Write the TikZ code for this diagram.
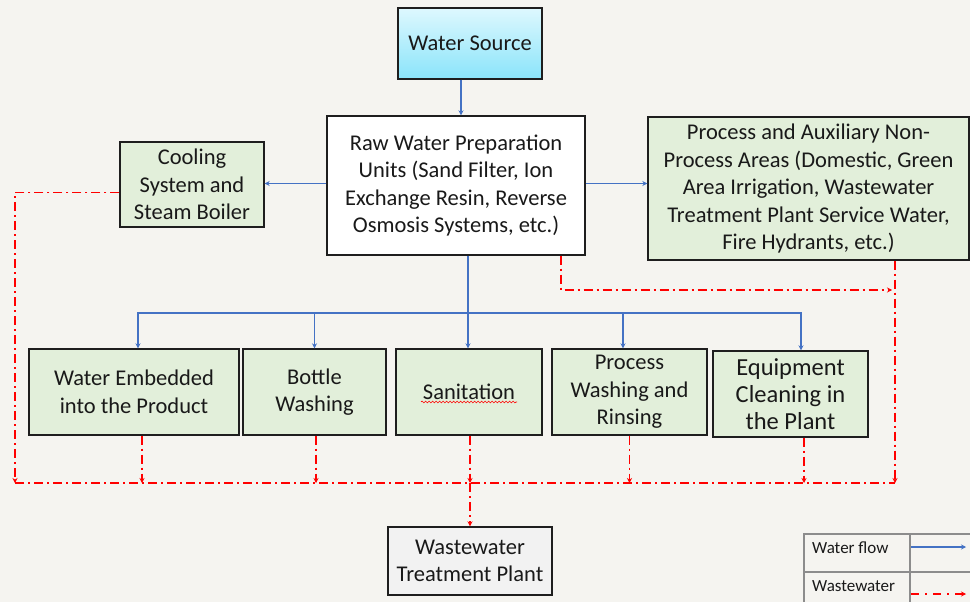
\documentclass[tikz,border=0pt]{standalone}
\usepackage{fontspec}
\setmainfont{Carlito}
\usetikzlibrary{arrows.meta,calc,decorations.pathmorphing}
\definecolor{bgc}{RGB}{245,244,240}
\definecolor{boxgreen}{RGB}{226,239,218}
\definecolor{flowblue}{RGB}{68,114,196}
\definecolor{wred}{RGB}{255,0,0}
\definecolor{edgec}{RGB}{30,30,30}
\definecolor{txt}{RGB}{25,25,25}
\definecolor{wtpfill}{RGB}{242,242,242}
\definecolor{cyantop}{RGB}{222,248,254}
\definecolor{cyanbot}{RGB}{138,228,250}
\definecolor{legc}{RGB}{140,140,140}
\begin{document}
\begin{tikzpicture}[x=1pt,y=-1pt,
  box/.style={draw=edgec,line width=1.4pt,inner sep=0pt,align=center,text=txt,
    font=\fontsize{22.5}{27.5}\selectfont},
  gbox/.style={box,fill=boxgreen},
  flow/.style={draw=flowblue,line width=1.4pt,-{Stealth[length=5pt,width=5pt]}},
  flowline/.style={draw=flowblue,line width=1.4pt},
  waste/.style={draw=wred,line width=1.8pt,dash pattern=on 9pt off 4pt on 2pt off 4pt,-{Stealth[length=5pt,width=5pt]}},
  wasteline/.style={draw=wred,line width=1.8pt,dash pattern=on 9pt off 4pt on 2pt off 4pt},
  legtxt/.style={inner sep=0pt,anchor=west,text=txt,font=\fontsize{17}{20}\selectfont}
]
\useasboundingbox (0,0) rectangle (970,602);
\fill[bgc] (0,0) rectangle (970,602);

% nodes
\node[box,top color=cyantop,bottom color=cyanbot,minimum width=144pt,minimum height=71pt] (ws) at (470,43.5) {Water Source};
\node[box,fill=white,minimum width=258pt,minimum height=139pt] (raw) at (456,185.5)
  {Raw Water Preparation\\Units (Sand Filter, Ion\\Exchange Resin, Reverse\\Osmosis Systems, etc.)};
\node[gbox,minimum width=144pt,minimum height=85pt] (cool) at (192,184.5) {Cooling\\System and\\Steam Boiler};
\node[gbox,minimum width=321pt,minimum height=143pt] (proc) at (808.5,188.5)
  {Process and Auxiliary Non-\\Process Areas (Domestic, Green\\Area Irrigation, Wastewater\\Treatment Plant Service Water,\\Fire Hydrants, etc.)};
\node[gbox,minimum width=210pt,minimum height=86pt] (we) at (134,392) {Water Embedded\\into the Product};
\node[gbox,minimum width=143pt,minimum height=86pt] (bw) at (314.5,392) {Bottle\\Washing};
\node[gbox,minimum width=146pt,minimum height=86pt] (san) at (469,392) {Sanitation};
\node[gbox,minimum width=155pt,minimum height=86pt] (pw) at (629.5,392) {Process\\Washing and\\Rinsing};
\node[gbox,minimum width=155pt,minimum height=86pt,font=\fontsize{24.5}{27}\selectfont] (eq) at (790.5,394) {Equipment\\Cleaning in\\the Plant};
\node[box,fill=wtpfill,minimum width=164pt,minimum height=68pt] (wtp) at (470,561) {Wastewater\\Treatment Plant};

% spell-check squiggle under Sanitation
\draw[wred,line width=0.6pt,decorate,decoration={snake,amplitude=0.9pt,segment length=3.5pt}]
  ([xshift=-48pt,yshift=-10pt]san.center) -- ([xshift=48pt,yshift=-10pt]san.center);

% water flow
\draw[flow] ([xshift=-9pt]ws.south) -- ([xshift=-9pt]ws.south |- raw.north);
\draw[flow] ([yshift=2pt]raw.west) -- ([yshift=2pt]raw.west -| cool.east);
\draw[flow] ([yshift=2pt]raw.east) -- ([yshift=2pt]raw.east -| proc.west);
\coordinate (j) at (468,313);
\draw[flowline] (raw.south -| j) -- (j);
\draw[flow] (j) -| ([xshift=4pt]we.north);
\draw[flow] (j) -| (bw.north);
\draw[flow] (j) -- (j |- san.north);
\draw[flow] (j) -| ([xshift=-6.5pt]pw.north);
\draw[flow] (j) -| ([xshift=10.5pt]eq.north);

% wastewater
\coordinate (bl) at (15,483);
\coordinate (br) at (895,483);
\coordinate (pr) at (892,290);
\draw[wasteline] (bl) -- (br);
\draw[waste] ([yshift=-8pt]cool.west) -| (bl);
\draw[waste] ([xshift=105pt]raw.south) |- (pr);
\draw[waste] ([xshift=86.5pt]proc.south) -- (br);
\draw[waste] ([xshift=8pt]we.south) -- ([xshift=8pt]we.south |- bl);
\draw[waste] ([xshift=1.5pt]bw.south) -- ([xshift=1.5pt]bw.south |- bl);
\draw[waste] ([xshift=1pt]san.south) -- ([xshift=1pt]san.south |- bl);
\draw[waste] (pw.south) -- (pw.south |- bl);
\draw[waste] ([xshift=13.5pt]eq.south) -- ([xshift=13.5pt]eq.south |- bl);
\draw[waste] (wtp.north |- bl) -- (wtp.north);

% legend
\draw[legc,line width=1.2pt] (804,534) rectangle (985,615);
\draw[legc,line width=1.2pt] (910,534) -- (910,615);
\draw[legc,line width=1.2pt] (804,572) -- (985,572);
\node[legtxt] (l1) at (812,548) {Water flow};
\node[legtxt] (l2) at (812,586) {Wastewater};
\coordinate (a1) at (911,547);
\coordinate (a2) at (966,547);
\coordinate (b1) at (911,594);
\coordinate (b2) at (966,594);
\draw[flow] (a1) -- (a2);
\draw[draw=wred,line width=1.8pt,dash pattern=on 8pt off 6pt on 2pt off 6pt,-{Stealth[length=5pt,width=5pt]}] (b1) -- (b2);
\end{tikzpicture}
\end{document}
